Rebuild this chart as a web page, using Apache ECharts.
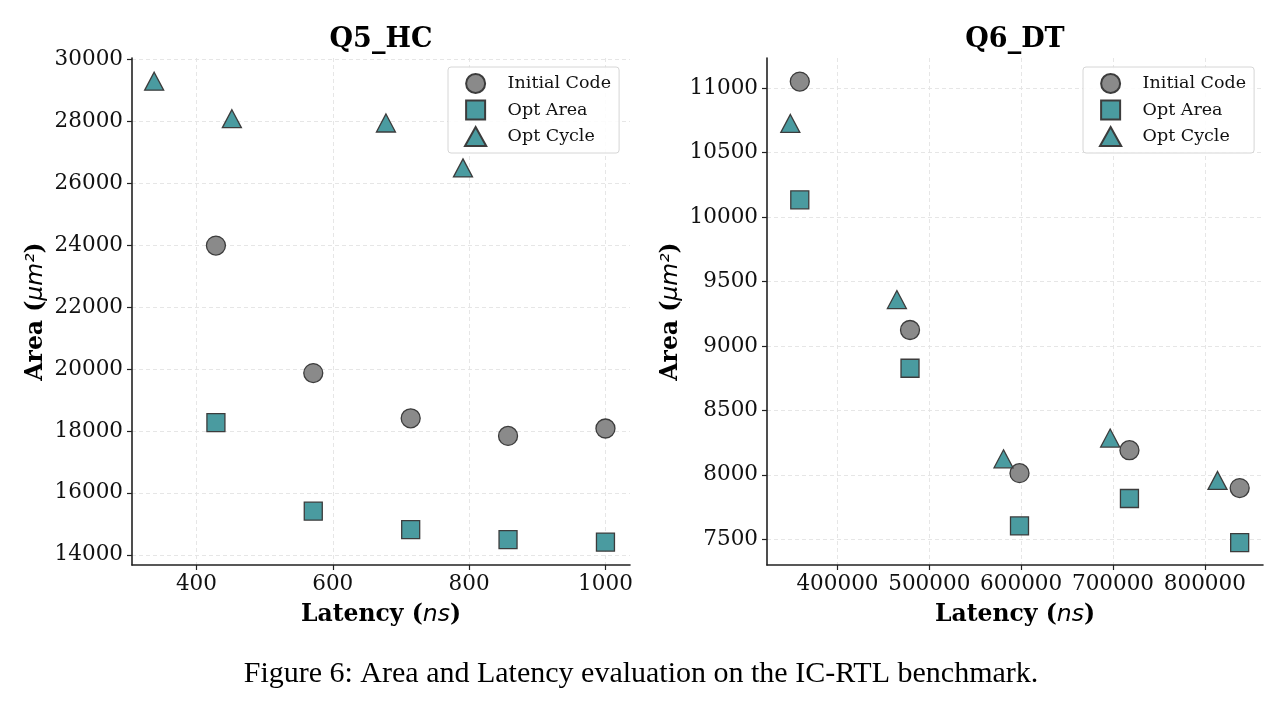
<!DOCTYPE html>
<html>
<head>
<meta charset="utf-8">
<script src="https://cdn.jsdelivr.net/npm/echarts@6/dist/echarts.min.js"></script>
<style>
  html, body { margin: 0; padding: 0; background: #fff; }
  #chart { width: 1285px; height: 706px; }
</style>
</head>
<body>
<div id="chart"></div>
<script>
// Q5_HC
var q5Latency = [428.6, 571.4, 714.3, 857.1, 1000];
var q5InitArea = [23990, 19870, 18410, 17840, 18080];
var q5OptArea = [18270, 15410, 14810, 14490, 14410];
var q5CycleLatency = [338, 452, 678, 791];
var q5CycleArea = [29300, 28090, 27950, 26500];

// Q6_DT
var q6Latency = [359000, 479000, 598200, 717900, 837900];
var q6InitArea = [11052, 9124, 8013, 8191, 7897];
var q6OptArea = [10134, 8827, 7603, 7816, 7474];
var q6CycleLatency = [348700, 464700, 580800, 696900, 813800];
var q6CycleArea = [10727, 9360, 8124, 8285, 7956];

// tick labels
var q5XTicks = [400, 600, 800, 1000];
var q5YTicks = [14000, 16000, 18000, 20000, 22000, 24000, 26000, 28000, 30000];
var q6XTicks = [400000, 500000, 600000, 700000, 800000];
var q6YTicks = [7500, 8000, 8500, 9000, 9500, 10000, 10500, 11000];

var seriesNames = ['Initial Code', 'Opt Area', 'Opt Cycle'];

var SERIF = 'DejaVu Serif';
var GRAY = '#8a8a8a';
var TEAL = '#4a9ba0';
var EDGE = '#3c3c3c';

function zip (xs, ys) {
  return xs.map(function (x, i) { return [x, ys[i]]; });
}

var nameRich = {
  b: {fontFamily: SERIF, fontWeight: 'bold', fontSize: 23.5, color: '#000'},
  m: {fontFamily: 'DejaVu Sans', fontStyle: 'italic', fontSize: 23.5, color: '#000'}
};

function makeXAxis (idx, min, max, ticks) {
  return {
    type: 'value',
    gridIndex: idx,
    min: min,
    max: max,
    name: '{b|Latency (}{m|ns}{b|)}',
    nameLocation: 'middle',
    nameGap: 38,
    nameTextStyle: {rich: nameRich},
    axisLine: {show: true, lineStyle: {color: '#222', width: 1.6}},
    axisTick: {show: true, inside: false, length: 5, customValues: ticks, lineStyle: {color: '#222', width: 1.2}},
    axisLabel: {
      customValues: ticks,
      margin: 8,
      fontFamily: SERIF,
      fontSize: 21.5,
      color: '#111',
      formatter: function (v) { return String(v); }
    },
    splitLine: {show: true, lineStyle: {color: '#e3e3e3', width: 0.9, type: [4, 3]}}
  };
}

function makeYAxis (idx, min, max, ticks) {
  return {
    type: 'value',
    gridIndex: idx,
    min: min,
    max: max,
    name: '{b|Area (}{m|μm²}{b|)}',
    nameLocation: 'middle',
    nameRotate: 90,
    nameGap: 84,
    nameTextStyle: {rich: nameRich},
    axisLine: {show: true, lineStyle: {color: '#222', width: 1.6}},
    axisTick: {show: true, inside: false, length: 5, customValues: ticks, lineStyle: {color: '#222', width: 1.2}},
    axisLabel: {
      customValues: ticks,
      margin: 9,
      fontFamily: SERIF,
      fontSize: 21.5,
      color: '#111',
      formatter: function (v) { return String(v); }
    },
    splitLine: {show: true, lineStyle: {color: '#e3e3e3', width: 0.9, type: [4, 3]}}
  };
}

function makeLegend (left) {
  return {
    orient: 'vertical',
    left: left,
    top: 67,
    padding: [6, 8, 6, 16],
    itemWidth: 54,
    itemHeight: 19,
    itemGap: 5.5,
    backgroundColor: 'rgba(255,255,255,0.85)',
    borderColor: '#d6d6d6',
    borderWidth: 1,
    borderRadius: 3,
    textStyle: {fontFamily: SERIF, fontSize: 17.5, color: '#111'},
    data: [
      {name: 'Initial Code', icon: 'circle'},
      {name: 'Opt Area', icon: 'path://M0,0L10,0L10,10L0,10Z'},
      {name: 'Opt Cycle', icon: 'path://M9.5,0L19,17L0,17Z'}
    ]
  };
}

function scatter (name, idx, data, symbol, size, color) {
  return {
    name: name,
    type: 'scatter',
    xAxisIndex: idx,
    yAxisIndex: idx,
    symbol: symbol,
    symbolSize: size,
    data: data,
    itemStyle: {color: color, borderColor: EDGE, borderWidth: 1.3, opacity: 1},
    emphasis: {disabled: true}
  };
}

var chart = echarts.init(document.getElementById('chart'), null, {renderer: 'canvas'});

var option = {
  animation: false,
  backgroundColor: '#fff',
  title: [
    {text: 'Q5_HC', left: 381, top: 26, textAlign: 'center', padding: 0,
      textStyle: {fontFamily: SERIF, fontWeight: 'bold', fontSize: 27, color: '#000'}},
    {text: 'Q6_DT', left: 1015, top: 26, textAlign: 'center', padding: 0,
      textStyle: {fontFamily: SERIF, fontWeight: 'bold', fontSize: 27, color: '#000'}},
    {text: 'Figure 6: Area and Latency evaluation on the IC-RTL benchmark.', left: 641, top: 659,
      textAlign: 'center', padding: 0,
      textStyle: {fontFamily: 'Liberation Serif', fontWeight: 'normal', fontSize: 30, color: '#000'}}
  ],
  legend: [makeLegend(448), makeLegend(1083)],
  grid: [
    {left: 132, top: 58, width: 498, height: 507},
    {left: 767, top: 58, width: 496, height: 507}
  ],
  xAxis: [
    makeXAxis(0, 305.5, 1036, q5XTicks),
    makeXAxis(1, 323300, 863300, q6XTicks)
  ],
  yAxis: [
    makeYAxis(0, 13670, 30050, q5YTicks),
    makeYAxis(1, 7300, 11235, q6YTicks)
  ],
  series: [
    scatter(seriesNames[0], 0, zip(q5Latency, q5InitArea), 'circle', 19, GRAY),
    scatter(seriesNames[1], 0, zip(q5Latency, q5OptArea), 'rect', 18, TEAL),
    scatter(seriesNames[2], 0, zip(q5CycleLatency, q5CycleArea), 'triangle', [19, 18], TEAL),
    scatter(seriesNames[0], 1, zip(q6Latency, q6InitArea), 'circle', 19, GRAY),
    scatter(seriesNames[1], 1, zip(q6Latency, q6OptArea), 'rect', 18, TEAL),
    scatter(seriesNames[2], 1, zip(q6CycleLatency, q6CycleArea), 'triangle', [19, 18], TEAL)
  ]
};

chart.setOption(option);
</script>
</body>
</html>
